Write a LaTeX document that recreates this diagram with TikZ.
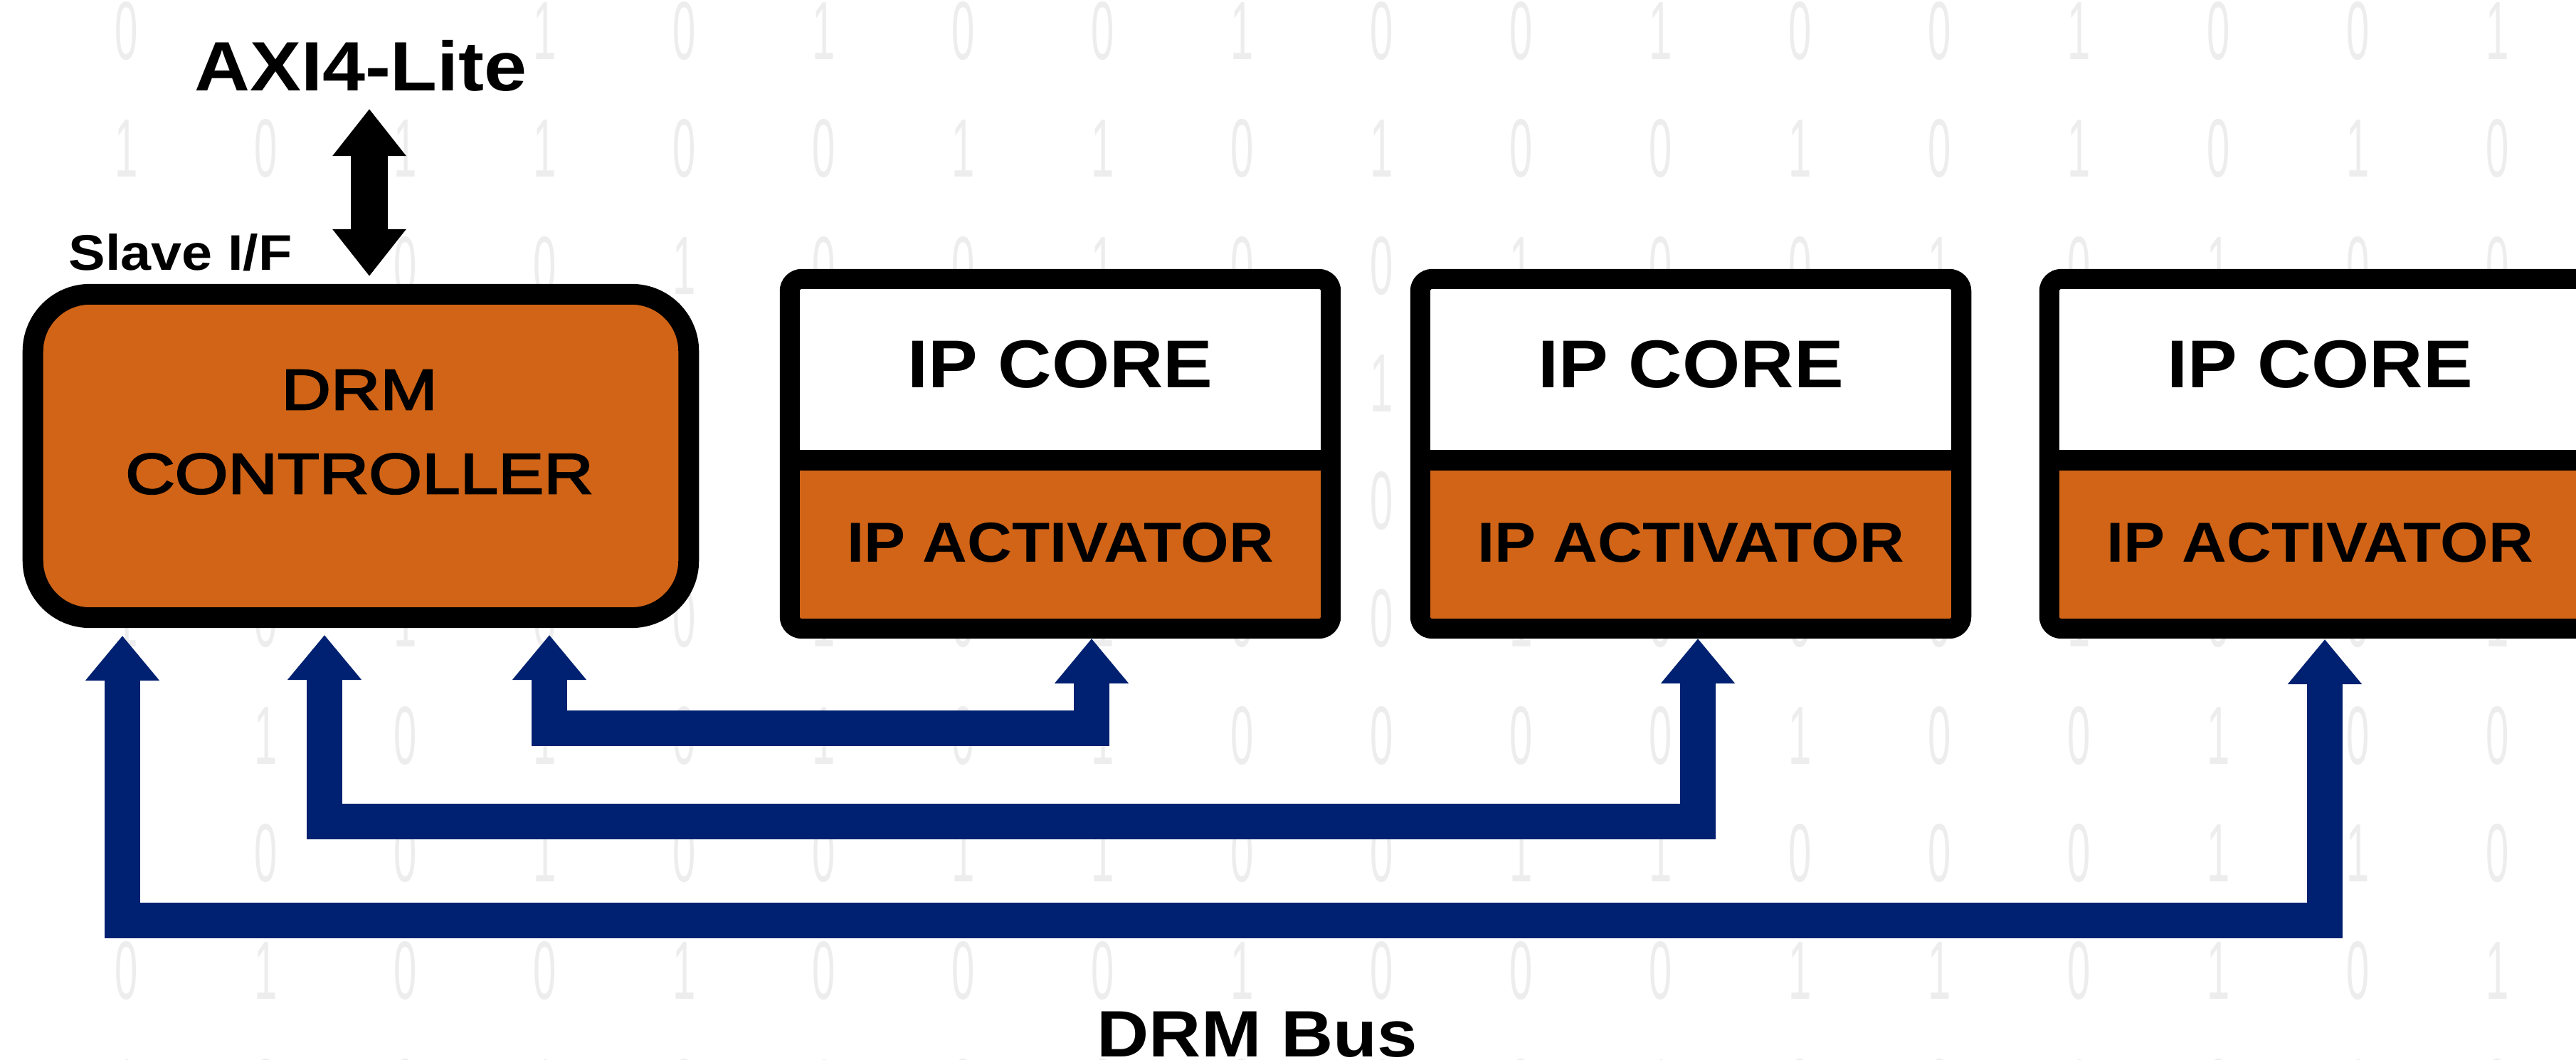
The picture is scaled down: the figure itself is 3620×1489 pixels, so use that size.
\documentclass[tikz,border=0pt]{standalone}
\usepackage{fontspec}
\setmainfont{Liberation Sans}
\newfontfamily\wideboldfont{Liberation Sans Bold}[FakeStretch=1.1]
\newfontfamily\widefont{Liberation Sans}[FakeStretch=1.2,FakeBold=3]
\newfontfamily\digitfont{Liberation Sans}[FakeStretch=0.5]
\usetikzlibrary{arrows.meta,calc}
\definecolor{drmorange}{RGB}{209,100,22}
\definecolor{busblue}{RGB}{0,33,113}
\definecolor{digitgray}{RGB}{237,237,237}

\begin{document}
\begin{tikzpicture}[x=0.01cm,y=-0.01cm,
  digit/.style={font=\digitfont\fontsize{33}{33}\selectfont,text=digitgray,inner sep=0pt},
  drmbox/.style={draw=black,line width=0.29cm,fill=drmorange,rounded corners=0.8cm,
    inner sep=0pt,minimum width=9.21cm,minimum height=4.54cm},
  ipframe/.style={draw=black,line width=0.28cm,rounded corners=0.17cm,
    inner sep=0pt,minimum width=7.6cm,minimum height=4.91cm},
  corepart/.style={fill=white,inner sep=0pt,minimum width=7.6cm,minimum height=2.39cm,
    font=\wideboldfont\fontsize{27}{30}\selectfont},
  actpart/.style={fill=drmorange,inner sep=0pt,minimum width=7.6cm,minimum height=2.14cm,
    font=\wideboldfont\fontsize{22.5}{26}\selectfont},
  divider/.style={draw=black,line width=0.29cm},
  lbl/.style={inner sep=0pt,font=\wideboldfont\fontsize{#1}{#1}\selectfont},
  axiarrow/.style={draw=black,line width=0.51cm,
    arrows={Triangle[length=6.6mm,width=9.9mm]-Triangle[length=6.6mm,width=9.9mm]}},
  bus/.style={draw=busblue,line width=0.5cm,line join=miter,
    arrows={Triangle[length=6.3mm,width=10mm]-Triangle[length=6.3mm,width=10mm]}}
]
\useasboundingbox (0,0) rectangle (3620,1489);
\clip (0,0) rectangle (3620,1489);
\fill[white] (0,0) rectangle (3620,1489);

% faint binary backdrop; the cells behind the two top labels stay empty
\foreach \row [count=\j from 0] in {
  {0,0,0,1,0,1,0,0,1,0,0,1,0,0,1,0,0,1,0},
  {1,0,1,1,0,0,1,1,0,1,0,0,1,0,1,0,1,0,0},
  {0,1,0,0,1,0,0,1,0,0,1,0,0,1,0,1,0,0,1},
  {1,0,0,1,0,0,1,0,0,1,0,1,0,0,0,1,0,1,0},
  {0,1,0,0,0,1,0,0,1,0,1,0,0,1,0,0,1,0,0},
  {1,0,1,0,0,1,0,1,0,0,1,0,0,0,1,0,0,1,0},
  {0,1,0,1,0,1,0,1,0,0,0,0,1,0,0,1,0,0,1},
  {0,0,0,1,0,0,1,1,0,0,1,1,0,0,0,1,1,0,0},
  {0,1,0,0,1,0,0,0,1,0,0,0,1,1,0,1,0,1,0},
  {1,0,0,1,0,1,0,0,0,1,0,1,0,0,1,0,1,0,0}} {
  \foreach \d [count=\k from 0] in \row {
    \pgfmathsetmacro\bx{178+196*\k}
    \pgfmathsetmacro\by{44+165*\j}
    \pgfmathtruncatemacro\hidden{(\j==0 && \bx>250 && \bx<760) || (\j==2 && \bx<450)}
    \ifnum\hidden=0
      \node[digit] (bit-\j-\k) at (\bx,\by) {\d};
    \fi
  }
}

% DRM controller
\node[drmbox] (drm) at (507,640.5) {};
\node[inner sep=0pt,align=center,font=\widefont\fontsize{22.8}{33.6}\selectfont]
  (drmlabel) at (505,607) {DRM\\CONTROLLER};

% IP blocks: core on top, activator below
\foreach \i/\cx in {1/1490,2/2376,3/3260} {
  \node[corepart] (core\i) at (\cx,511.5) {IP CORE};
  \node[actpart] (act\i) at (\cx,762) {IP ACTIVATOR};
  \draw[divider] (core\i.south west) ++(0,14.5) -- ++(760,0);
  \node[ipframe] (ip\i) at (\cx,637.5) {};
}

% AXI4-Lite slave interface
\node[lbl=27.9,anchor=base] (axi) at (507,128) {AXI4-Lite};
\node[lbl=20,anchor=base west] (slave) at (96,380) {Slave I/F};
\coordinate (axiend) at (519,153);
\coordinate (sifend) at (519,388);
\draw[axiarrow] (axiend) -- (sifend);

% DRM bus links
\coordinate (d1) at (772,892);
\coordinate (d2) at (456,892);
\coordinate (d3) at (172,893);
\coordinate (a1) at (1534,897);
\coordinate (a2) at (2386,897);
\coordinate (a3) at (3267,898);
\coordinate (y1) at (0,1023);
\coordinate (y2) at (0,1154);
\coordinate (y3) at (0,1293);
\draw[bus] (d1) |- (a1 |- y1) -- (a1);
\draw[bus] (d2) |- (a2 |- y2) -- (a2);
\draw[bus] (d3) |- (a3 |- y3) -- (a3);

\node[lbl=26.2,anchor=base] (buslabel) at (1767,1484) {DRM Bus};
\end{tikzpicture}
\end{document}
